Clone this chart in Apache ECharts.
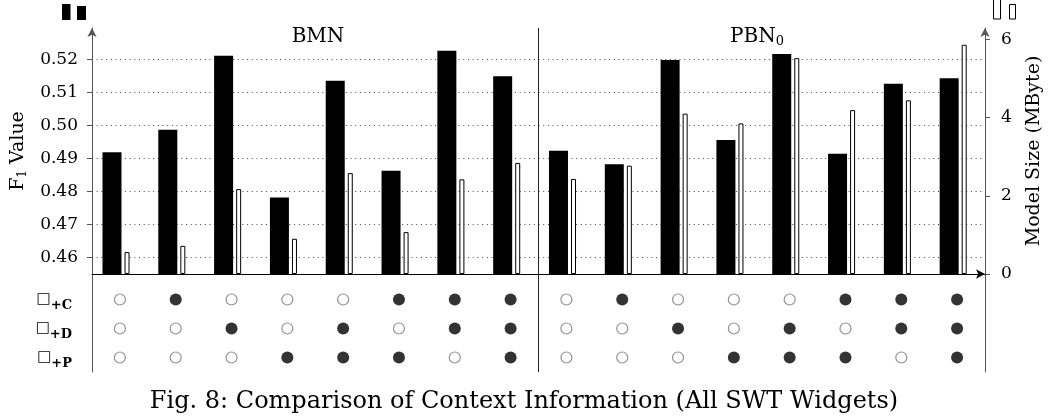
<!DOCTYPE html>
<html>
<head>
<meta charset="utf-8">
<script src="https://cdn.jsdelivr.net/npm/echarts@6/dist/echarts.min.js"></script>
<style>
html,body{margin:0;padding:0;background:#fff;}
#c{width:1056px;height:416px;}
</style>
</head>
<body>
<div id="c"></div>
<script>
// ---- data ----
const categories = ['B1','B2','B3','B4','B5','B6','B7','B8','P1','P2','P3','P4','P5','P6','P7','P8'];
const f1Values = [0.4919, 0.4987, 0.5211, 0.4782, 0.5135, 0.4863, 0.5226, 0.5149,
                  0.4923, 0.4882, 0.5198, 0.4956, 0.5216, 0.4914, 0.5126, 0.5143];
const sizeValues = [0.56, 0.72, 2.17, 0.90, 2.58, 1.07, 2.42, 2.84,
                    2.43, 2.77, 4.10, 3.85, 5.52, 4.19, 4.44, 5.86];
const useC = [0,1,0,0,0,1,1,1, 0,1,0,0,0,1,1,1];
const useD = [0,0,1,0,1,0,1,1, 0,0,1,0,1,0,1,1];
const useP = [0,0,0,1,1,1,0,1, 0,0,0,1,1,1,0,1];
const rowLabels = ['+C', '+D', '+P'];
const sectionTitles = ['BMN', 'PBN'];
const caption = 'Fig. 8: Comparison of Context Information (All SWT Widgets)';

// ---- build ----
const FONT = 'DejaVu Serif';
const rowCats = [''].concat(rowLabels);
const filled = [], open = [];
[useC, useD, useP].forEach(function (arr, r) {
  arr.forEach(function (v, i) { (v ? filled : open).push([i, rowLabels[r]]); });
});
// divider between the two halves (every 8th category boundary)
const dividerEvery = function (i) { return i % 8 === 0; };

const chart = echarts.init(document.getElementById('c'));
const option = {
  animation: false,
  backgroundColor: '#fff',
  grid: [
    { left: 92, right: 71, top: 28, bottom: 142 },
    { left: 92, right: 71, top: 256, bottom: 44 }
  ],
  xAxis: [
    {
      type: 'category', gridIndex: 0, data: categories,
      axisLine: { lineStyle: { color: '#000', width: 1 }, symbol: ['none', 'arrow'], symbolSize: [7, 9] },
      axisTick: { alignWithLabel: true, length: 4, lineStyle: { color: '#555' } },
      axisLabel: { show: false },
      splitLine: { show: true, interval: dividerEvery, lineStyle: { color: '#222', width: 1, type: 'solid' } }
    },
    {
      type: 'category', gridIndex: 1, data: categories,
      axisLine: { show: false }, axisTick: { show: false }, axisLabel: { show: false },
      splitLine: { show: true, interval: dividerEvery, lineStyle: { color: '#222', width: 1, type: 'solid' } }
    }
  ],
  yAxis: [
    {
      type: 'value', gridIndex: 0, position: 'left', min: 0.455, max: 0.5295, splitNumber: 7,
      axisLine: { show: true, lineStyle: { color: '#555' }, symbol: ['none', 'arrow'], symbolSize: [7, 9] },
      axisTick: { show: true, length: 5, lineStyle: { color: '#555' } },
      axisLabel: {
        formatter: function (v) { return v.toFixed(2); },
        showMinLabel: false, showMaxLabel: false, margin: 14,
        fontSize: 17, fontFamily: FONT, color: '#000'
      },
      splitLine: { show: true, showMinLine: false, showMaxLine: false, lineStyle: { type: [1, 3.7], color: '#444', width: 1 } },
      name: '{a|F}{s|1}{a| Value}', nameLocation: 'middle', nameGap: 60, nameRotate: 90,
      nameTextStyle: {
        fontFamily: FONT, fontSize: 19, color: '#000',
        rich: {
          a: { fontFamily: FONT, fontSize: 19, color: '#000' },
          s: { fontFamily: FONT, fontSize: 12, color: '#000', padding: [11, 0, 0, 0] }
        }
      }
    },
    {
      type: 'value', gridIndex: 0, position: 'right', min: 0, max: 6.29, interval: 2,
      axisLine: { show: true, lineStyle: { color: '#555' }, symbol: ['none', 'arrow'], symbolSize: [7, 9] },
      axisTick: { show: true, length: 5, lineStyle: { color: '#555' } },
      axisLabel: { showMaxLabel: false, margin: 16, fontSize: 17, fontFamily: FONT, color: '#000' },
      splitLine: { show: false },
      name: 'Model Size (MByte)', nameLocation: 'middle', nameGap: 40, nameRotate: 90,
      nameTextStyle: { fontFamily: FONT, fontSize: 19, color: '#000' }
    },
    {
      type: 'category', gridIndex: 1, data: rowCats, inverse: true, position: 'left',
      axisLine: { show: true, lineStyle: { color: '#555' } },
      axisTick: { show: false },
      splitLine: { show: false },
      axisLabel: {
        margin: 20,
        formatter: function (v) { return v ? '{q|\u25A1}{s|' + v + '}' : ''; },
        rich: {
          q: { fontFamily: 'DejaVu Sans', fontSize: 15, color: '#000' },
          s: { fontFamily: FONT, fontSize: 13, fontWeight: 'bold', color: '#000', padding: [12, 0, 0, 0] }
        }
      }
    },
    {
      type: 'category', gridIndex: 1, data: rowCats, inverse: true, position: 'right',
      axisLine: { show: true, lineStyle: { color: '#555' } },
      axisTick: { show: false }, axisLabel: { show: false }, splitLine: { show: false }
    }
  ],
  series: [
    {
      type: 'bar', name: 'F1 Value', xAxisIndex: 0, yAxisIndex: 0, data: f1Values,
      barWidth: 19, barGap: '16%', itemStyle: { color: '#000' }
    },
    {
      type: 'bar', name: 'Model Size', xAxisIndex: 0, yAxisIndex: 1, data: sizeValues,
      barWidth: 5, barGap: '16%', itemStyle: { color: '#fff', borderColor: '#000', borderWidth: 1 }
    },
    {
      type: 'bar', name: 'spacer', xAxisIndex: 0, yAxisIndex: 1, data: [],
      barWidth: 7, barGap: '16%', silent: true
    },
    {
      type: 'scatter', name: 'used', xAxisIndex: 1, yAxisIndex: 2, data: filled,
      symbol: 'circle', symbolSize: 12, itemStyle: { color: '#000' }
    },
    {
      type: 'scatter', name: 'unused', xAxisIndex: 1, yAxisIndex: 2, data: open,
      symbol: 'circle', symbolSize: 11, itemStyle: { color: '#fff', borderColor: '#777', borderWidth: 1.2 }
    }
  ],
  graphic: [
    { type: 'text', x: 318, y: 37, style: { text: sectionTitles[0], fontFamily: FONT, fontSize: 20, fill: '#000', align: 'center', verticalAlign: 'middle' } },
    { type: 'text', x: 757, y: 37, style: {
        text: '{a|' + sectionTitles[1] + '}{s|0}', fontFamily: FONT, fontSize: 20, fill: '#000', align: 'center', verticalAlign: 'middle',
        rich: { a: { fontFamily: FONT, fontSize: 20, fill: '#000' }, s: { fontFamily: FONT, fontSize: 13, fill: '#000', padding: [10, 0, 0, 0] } }
    } },
    { type: 'text', x: 524, y: 402, style: { text: caption, fontFamily: FONT, fontSize: 24, fill: '#000', align: 'center', verticalAlign: 'middle' } },
    { type: 'rect', shape: { x: 62, y: 4, width: 8.5, height: 16 }, style: { fill: '#000' } },
    { type: 'rect', shape: { x: 77, y: 6, width: 9, height: 14 }, style: { fill: '#000' } },
    { type: 'rect', shape: { x: 993.5, y: -1, width: 7, height: 20 }, style: { fill: '#fff', stroke: '#000', lineWidth: 1 } },
    { type: 'rect', shape: { x: 1009.5, y: 4.5, width: 6, height: 14.5 }, style: { fill: '#fff', stroke: '#000', lineWidth: 1 } }
  ]
};
chart.setOption(option);
</script>
</body>
</html>
